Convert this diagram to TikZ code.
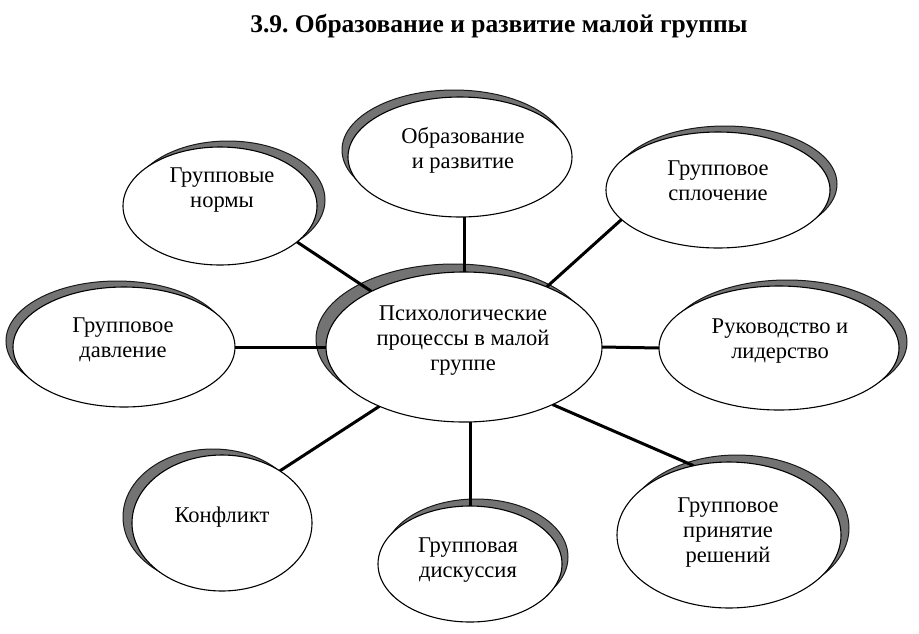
\documentclass[tikz,border=0pt]{standalone}
\usepackage{fontspec}
\setmainfont{Liberation Serif}
\usetikzlibrary{shapes.geometric}
\pgfdeclarelayer{bglayer}
\pgfdeclarelayer{shadowlayer}
\pgfdeclarelayer{linelayer}
\pgfsetlayers{bglayer,shadowlayer,linelayer,main}
\frenchspacing
\newcommand\stk[1]{\vtop{\baselineskip=25pt\halign{\hfil##\hfil\cr#1\crcr}}}
\tikzset{
  ell/.style={ellipse, draw=black, fill=white, line width=1.1pt, inner sep=0pt, outer sep=0pt},
  shad/.style={ellipse, fill=black!55, draw=black!90, line width=1pt, inner sep=0pt, outer sep=0pt},
  conn/.style={line width=3pt, draw=black},
  txt/.style={anchor=base, inner sep=0pt, font=\fontsize{22.5}{25}\selectfont},
  ttl/.style={anchor=base, inner sep=0pt, font=\bfseries\fontsize{25.5}{30}\selectfont}
}
\begin{document}
\begin{tikzpicture}[x=1pt,y=-1pt]
\begin{pgfonlayer}{bglayer}
\useasboundingbox[fill=white] (0,0) rectangle (919,633);
\end{pgfonlayer}

\node[ttl] (title) at (499,32) {3.9. Образование и развитие малой группы};

% white ellipses
\node[ell, minimum width=276pt, minimum height=150pt] (cen)  at (464,347) {};
\node[ell, minimum width=224pt, minimum height=120pt] (obr)  at (460,157) {};
\node[ell, minimum width=194pt, minimum height=118pt] (norm) at (220,206) {};
\node[ell, minimum width=224pt, minimum height=116pt] (spl)  at (718,190) {};
\node[ell, minimum width=240pt, minimum height=124pt] (ruk)  at (779,348) {};
\node[ell, minimum width=222pt, minimum height=120pt] (dav)  at (124,347) {};
\node[ell, minimum width=180pt, minimum height=136pt] (kon)  at (222,523) {};
\node[ell, minimum width=184pt, minimum height=116pt] (dis)  at (470,564) {};
\node[ell, minimum width=224pt, minimum height=146pt] (pri)  at (729,535) {};

% shadows
\begin{pgfonlayer}{shadowlayer}
\node[shad, minimum width=276pt, minimum height=150pt] (scen)  at (454,339) {};
\node[shad, minimum width=224pt, minimum height=120pt] (sobr)  at (454,150) {};
\node[shad, minimum width=194pt, minimum height=118pt] (snorm) at (228,200) {};
\node[shad, minimum width=224pt, minimum height=116pt] (sspl)  at (725,184) {};
\node[shad, minimum width=240pt, minimum height=124pt] (sruk)  at (787,342) {};
\node[shad, minimum width=222pt, minimum height=120pt] (sdav)  at (117,341) {};
\node[shad, minimum width=180pt, minimum height=136pt] (skon)  at (213,517) {};
\node[shad, minimum width=184pt, minimum height=116pt] (sdis)  at (476,557) {};
\node[shad, minimum width=224pt, minimum height=146pt] (spri)  at (737,528) {};
\end{pgfonlayer}

% connectors
\begin{pgfonlayer}{linelayer}
\draw[conn] (norm.-25) -- (cen.149);
\draw[conn] (cen.north) -- (cen.north |- obr.south);
\draw[conn] (spl.197) -- (cen.36);
\draw[conn] (dav.east) -- (cen.west);
\draw[conn] (ruk.west) -- (cen.east);
\draw[conn] (kon.42) -- (cen.215);
\draw[conn] (dis.north) -- (dis.north |- cen.south);
\draw[conn] (pri.117) -- (cen.-33);
\end{pgfonlayer}

% texts
\node[txt] (tcen)  at (463,320) {\stk{Психологические\cr процессы в малой\cr группе}};
\node[txt] (tobr)  at (463,143) {\stk{Образование\cr и развитие}};
\node[txt] (tnorm) at (222,182) {\stk{Групповые\cr нормы}};
\node[txt] (tspl)  at (718,175) {\stk{Групповое\cr сплочение}};
\node[txt] (truk)  at (780,333) {\stk{Руководство и\cr лидерство}};
\node[txt] (tdav)  at (123,332) {\stk{Групповое\cr давление}};
\node[txt] (tkon)  at (222,522) {Конфликт};
\node[txt] (tdis)  at (468,552) {\stk{Групповая\cr дискуссия}};
\node[txt] (tpri)  at (728,512) {\stk{Групповое\cr принятие\cr решений}};
\end{tikzpicture}
\end{document}
